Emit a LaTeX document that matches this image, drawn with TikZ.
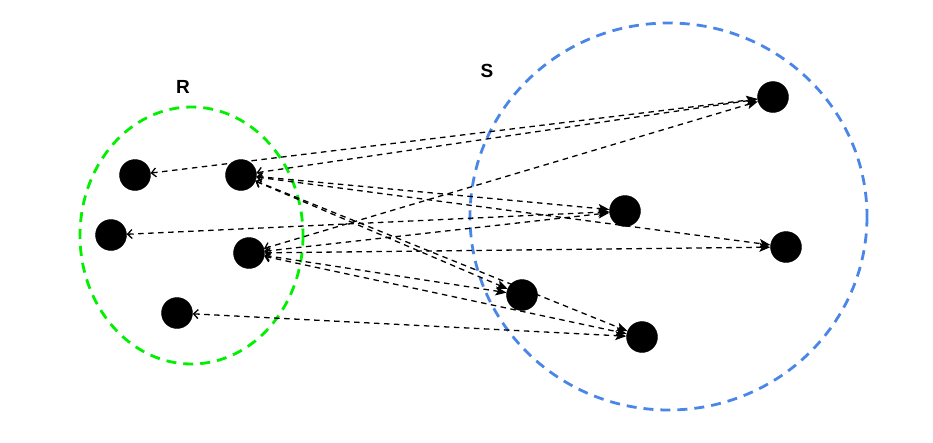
\documentclass[tikz,border=0pt]{standalone}
\usepackage{fontspec}
\setmainfont{Liberation Sans}
\usepackage{xcolor}
\usetikzlibrary{arrows.meta}
\definecolor{setGreen}{RGB}{0,240,0}
\definecolor{setBlue}{RGB}{74,134,232}

\begin{document}
\begin{tikzpicture}[
    x=1pt, y=-1pt,
    pt/.style={circle, fill=black, draw=black, minimum size=31pt, inner sep=0pt},
    lbl/.style={font=\fontsize{19}{22}\selectfont\bfseries, inner sep=0pt},
    setline/.style={line width=2.8pt, dash pattern=on 10pt off 7pt},
    link/.style={line width=1.3pt, dash pattern=on 5.5pt off 4.5pt,
      {Straight Barb[length=4.5pt,width=9pt]}-{Stealth[length=11pt,width=9pt,inset=2.5pt]}}
  ]
    \useasboundingbox (0,0) rectangle (933,442);

    % the two sets
    \draw[setline, setGreen] (191.5,235.5) ellipse [x radius=111.5, y radius=128.5];
    \draw[setline, setBlue] (668.5,216.5) ellipse [x radius=198.5, y radius=193.5];
    \node[lbl] (lblR) at (183,87) {R};
    \node[lbl] (lblS) at (487,71) {S};

    % points of R
    \node[pt] (r1) at (135,175) {};
    \node[pt] (r2) at (241,175) {};
    \node[pt] (r3) at (111,235) {};
    \node[pt] (r4) at (249,253) {};
    \node[pt] (r5) at (177,313) {};

    % points of S
    \node[pt] (s1) at (773,97) {};
    \node[pt] (s2) at (625,211) {};
    \node[pt] (s3) at (786,247) {};
    \node[pt] (s4) at (522,295) {};
    \node[pt] (s5) at (642,337) {};

    \draw[link] (r1) -- (s1);
    \draw[link] (r2) -- (s1);
    \draw[link] (r2) -- (s2);
    \draw[link] (r2) -- (s3);
    \draw[link] (r2) -- (s4);
    \draw[link] (r2) -- (s5);
    \draw[link] (r3) -- (s2);
    \draw[link] (r4) -- (s1);
    \draw[link] (r4) -- (s2);
    \draw[link] (r4) -- (s3);
    \draw[link] (r4) -- (s4);
    \draw[link] (r4) -- (s5);
    \draw[link] (r5) -- (s5);
  \end{tikzpicture}
\end{document}
